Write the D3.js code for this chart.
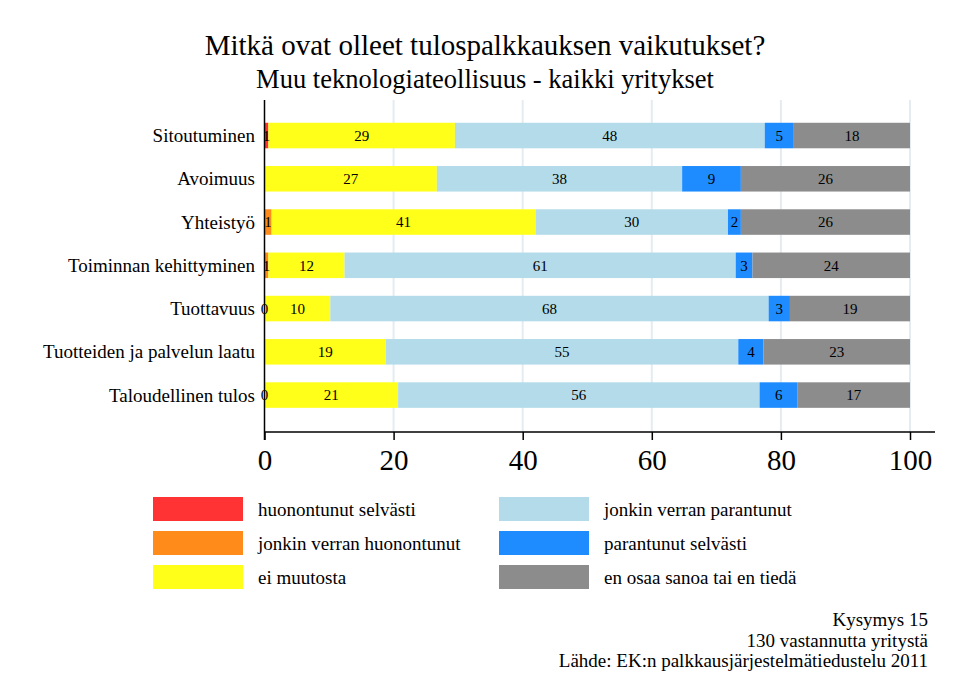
<!DOCTYPE html>
<html><head><meta charset="utf-8">
<script src="https://cdn.jsdelivr.net/npm/d3@7"></script>
<style>body{margin:0;background:#fff}svg{display:block}text{font-family:"Liberation Serif","DejaVu Serif",serif;fill:#000}</style>
</head><body>
<svg id="c" width="960" height="697"></svg>
<script>
const categories = ["Sitoutuminen","Avoimuus","Yhteistyö","Toiminnan kehittyminen","Tuottavuus","Tuotteiden ja palvelun laatu","Taloudellinen tulos"];
const seriesNames = ["huonontunut selvästi","jonkin verran huonontunut","ei muutosta","jonkin verran parantunut","parantunut selvästi","en osaa sanoa tai en tiedä"];
const seriesColors = ["#ff3333","#ff8c1a","#ffff1a","#b3dbe9","#1e8cff","#8c8c8c"];
// null = category absent (no label)
const huonontunutSelvasti   = [0.6, null, null, null, 0, null, 0];
const jonkinVerranHuonont   = [null, null, 1.1, 0.6, null, null, null];
const eiMuutosta            = [28.9, 26.7, 40.9, 11.8, 10.2, 18.8, 20.7];
const jonkinVerranParant    = [48.0, 38.0, 29.8, 60.6, 67.9, 54.6, 56.0];
const parantunutSelvasti    = [4.5, 9.1, 2.0, 2.6, 3.3, 3.9, 5.9];
const enOsaaSanoa           = [18.0, 26.2, 26.2, 24.4, 18.6, 22.7, 17.4];
const xTicks = [0,20,40,60,80,100];
const titleText = "Mitkä ovat olleet tulospalkkauksen vaikutukset?";
const subtitleText = "Muu teknologiateollisuus - kaikki yritykset";
const notes = ["Kysymys 15","130 vastannutta yritystä","Lähde: EK:n palkkausjärjestelmätiedustelu 2011"];

const series = [huonontunutSelvasti,jonkinVerranHuonont,eiMuutosta,jonkinVerranParant,parantunutSelvasti,enOsaaSanoa];
const svg = d3.select("#c");

const x = d3.scaleLinear().domain([0,100]).range([264.5,910]);
const y = d3.scaleBand().domain(categories).range([113.9,416.7]).paddingInner(0.41).paddingOuter(0.205);
const plotTop = 100, axisY = 432, axisRight = 935;

svg.append("text").attr("x",485).attr("y",55).attr("text-anchor","middle").style("font-size","29px").text(titleText);
svg.append("text").attr("x",485).attr("y",88).attr("text-anchor","middle").style("font-size","26.5px").text(subtitleText);

// gridlines
svg.append("g").selectAll("line").data(xTicks.filter(d=>d>0)).join("line")
  .attr("x1",d=>x(d)).attr("x2",d=>x(d)).attr("y1",plotTop).attr("y2",axisY)
  .attr("stroke","#e4ecf1").attr("stroke-width",2);

// bars
const rows = categories.map((c,i)=>{
  let acc=0; const segs=[];
  series.forEach((s,j)=>{
    const v=s[i];
    if(v===null) return;
    segs.push({cat:c,j,v,x0:acc,x1:acc+v});
    acc+=v;
  });
  return segs;
}).flat();

svg.append("g").selectAll("rect").data(rows).join("rect")
  .attr("x",d=>x(d.x0)).attr("width",d=>x(d.x1)-x(d.x0))
  .attr("y",d=>y(d.cat)).attr("height",y.bandwidth())
  .attr("fill",d=>seriesColors[d.j]);

svg.append("g").selectAll("text").data(rows).join("text")
  .attr("x",d=>x((d.x0+d.x1)/2)).attr("y",d=>y(d.cat)+y.bandwidth()/2)
  .attr("dy","0.35em").attr("text-anchor","middle").style("font-size","15px")
  .text(d=>Math.round(d.v));

// category labels
svg.append("g").selectAll("text").data(categories).join("text")
  .attr("x",255).attr("y",d=>y(d)+y.bandwidth()/2).attr("dy","0.35em")
  .attr("text-anchor","end").style("font-size","19px").text(d=>d);

// axes
svg.append("line").attr("x1",x(0)).attr("x2",x(0)).attr("y1",plotTop).attr("y2",axisY+8).attr("stroke","#000").attr("stroke-width",1.5);
svg.append("line").attr("x1",x(0)).attr("x2",axisRight).attr("y1",axisY).attr("y2",axisY).attr("stroke","#000").attr("stroke-width",1.5);
const ax = svg.append("g").attr("transform",`translate(0,${axisY})`)
  .call(d3.axisBottom(x).tickValues(xTicks).tickSize(8).tickPadding(9).tickFormat(d3.format("d")));
ax.select(".domain").remove();
ax.selectAll(".tick line").attr("stroke","#000").attr("stroke-width",1.5);
ax.selectAll(".tick text").style("font-size","29px").style("font-family","'Liberation Serif',serif");

// legend
const leg = svg.append("g");
seriesNames.forEach((n,i)=>{
  const col=Math.floor(i/3), row=i%3;
  const lx = col===0?153:499, ly = 497+row*34;
  leg.append("rect").attr("x",lx).attr("y",ly).attr("width",90).attr("height",24).attr("fill",seriesColors[i]);
  leg.append("text").attr("x",lx+105).attr("y",ly+12).attr("dy","0.35em").style("font-size","19px").text(n);
});

// notes
notes.forEach((t,i)=>{
  svg.append("text").attr("x",928).attr("y",626+i*20.5).attr("text-anchor","end").style("font-size","19px").text(t);
});
</script>
</body></html>
